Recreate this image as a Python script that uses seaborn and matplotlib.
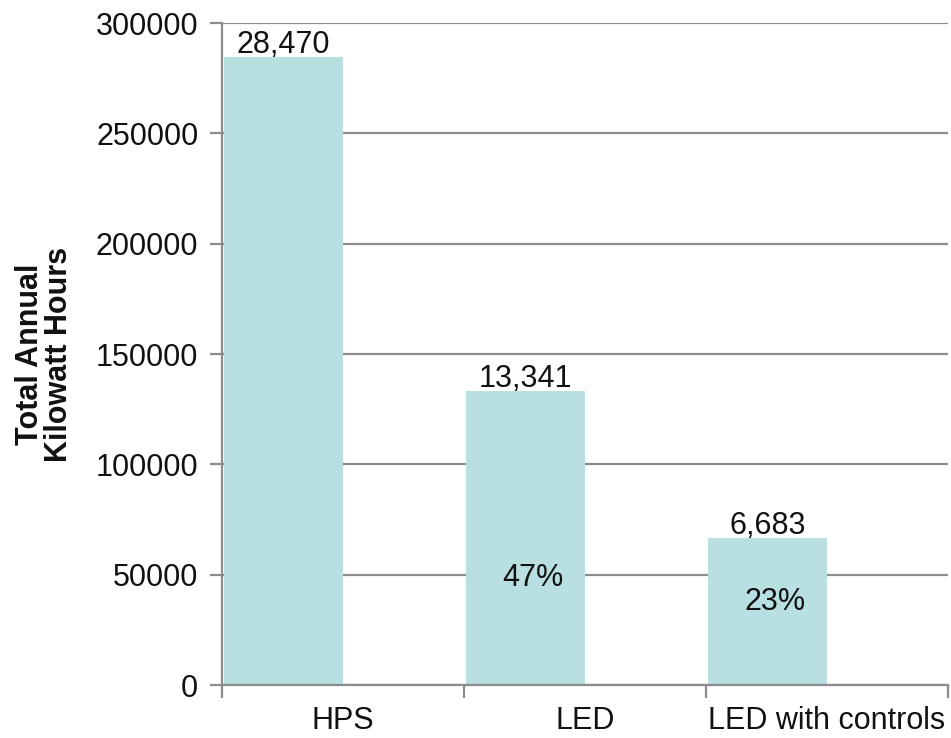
import matplotlib
matplotlib.use("Agg")
import matplotlib.pyplot as plt
import pandas as pd
import seaborn as sns

# ── data ──────────────────────────────────────────────────────────────────────
categories = ["HPS", "LED", "LED with controls"]
kwh = [284700, 133410, 66830]
value_labels = ["28,470", "13,341", "6,683"]
pct_labels = ["", "47%", "23%"]
pct_y = [0, 48500, 37600]

# bars sit in the left half of each slot, so pair them with an empty series
df = pd.DataFrame({
    "cat": categories * 2,
    "kwh": kwh + [0] * len(categories),
    "series": ["kwh"] * len(categories) + ["blank"] * len(categories),
})

sns.set_theme(style="white")
plt.rcParams["font.family"] = ["Liberation Sans", "DejaVu Sans"]
FS = 22

fig = plt.figure(figsize=(9.51, 7.38), dpi=100)
ax = fig.add_axes([0.2334, 0.0718, 0.7634, 0.897])

sns.barplot(data=df, x="cat", y="kwh", hue="series", hue_order=["kwh", "blank"],
            palette=["#b8dfe1", "#ffffff"], width=0.98, gap=0, dodge=True,
            legend=False, saturation=1, linewidth=0, ax=ax)

ax.set_ylim(0, 300000)
ax.set_xlim(-0.5, 2.5)
ax.set_yticks(range(0, 300001, 50000))
ax.yaxis.grid(True, color="#8c8c8c", linewidth=1.6)
ax.set_axisbelow(True)

# value labels and percentages
bars = ax.patches[:len(categories)]
for bar, txt in zip(bars, value_labels):
    ax.text(bar.get_x() + bar.get_width() / 2, bar.get_height() + 1800, txt,
            ha="center", va="baseline", fontsize=FS, color="#111111")
for bar, txt, y in zip(bars, pct_labels, pct_y):
    if txt:
        ax.text(bar.get_x() + bar.get_width() / 2 + 0.03, y, txt,
                ha="center", va="center", fontsize=FS, color="#111111")

# spines and ticks
for side in ["top", "right"]:
    ax.spines[side].set_visible(False)
for side in ["left", "bottom"]:
    ax.spines[side].set_color("#8c8c8c")
    ax.spines[side].set_linewidth(1.6)

ax.set_xticks([0, 1, 2])
ax.set_xticklabels(categories)
ax.set_xticks([-0.5, 0.5, 1.5, 2.5], minor=True)
ax.tick_params(axis="x", which="major", length=0, pad=15, labelsize=FS, labelcolor="#111111")
ax.tick_params(axis="x", which="minor", bottom=True, length=9, width=1.6, color="#8c8c8c")
ax.tick_params(axis="y", left=True, length=9, width=1.6, color="#8c8c8c",
               labelsize=FS, labelcolor="#111111", pad=8)

ax.set_xlabel("")
ax.set_ylabel("Total Annual\nKilowatt Hours", fontsize=FS, fontweight="bold",
              color="#111111", labelpad=16, linespacing=0.95)

fig.savefig("out.png", dpi=100)
